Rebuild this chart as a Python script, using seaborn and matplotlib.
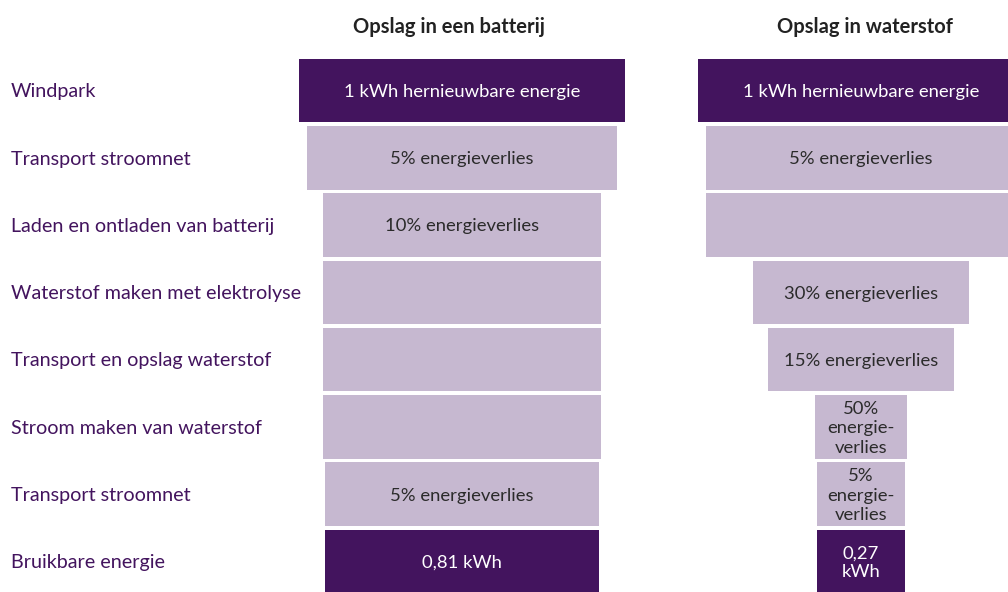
import pandas as pd
import matplotlib.pyplot as plt
import seaborn as sns

# Steps in the energy chain (top to bottom)
stappen = ['Windpark', 'Transport stroomnet', 'Laden en ontladen van batterij',
           'Waterstof maken met elektrolyse', 'Transport en opslag waterstof',
           'Stroom maken van waterstof', 'Transport stroomnet', 'Bruikbare energie']
soort = ['energie', 'verlies', 'verlies', 'verlies', 'verlies', 'verlies', 'verlies', 'energie']

# Remaining energy per step (bar width, share of 1 kWh)
batterij = [1.0, 0.95, 0.855, 0.855, 0.855, 0.855, 0.84, 0.84]
waterstof = [1.0, 0.95, 0.95, 0.665, 0.57, 0.285, 0.27, 0.27]

batterij_tekst = ['1 kWh hernieuwbare energie', '5% energieverlies', '10% energieverlies',
                  '', '', '', '5% energieverlies', '0,81 kWh']
waterstof_tekst = ['1 kWh hernieuwbare energie', '5% energieverlies', '',
                   '30% energieverlies', '15% energieverlies', '50%\nenergie-\nverlies',
                   '5%\nenergie-\nverlies', '0,27\nkWh']

titels = ['Opslag in een batterij', 'Opslag in waterstof']

donker = '#43145e'
licht = '#c6b8d0'
palet = {'energie': donker, 'verlies': licht}

sns.set_style('white')
plt.rcParams['font.family'] = ['Lato', 'DejaVu Sans']

fig = plt.figure(figsize=(10.08, 5.92), dpi=100)
W, H = 1008, 592
onder = -3.1 / H
hoogte = 538.2 / H
ax1 = fig.add_axes([299 / W, onder, 326 / W, hoogte])
ax2 = fig.add_axes([698 / W, onder, 310 / W, hoogte])


def trechter(ax, breedte, tekst, xmax):
    df = pd.DataFrame({'stap': list(range(len(stappen))), 'breedte': breedte, 'soort': soort})
    sns.barplot(data=df, x='breedte', y='stap', hue='soort', palette=palet, orient='h',
                dodge=False, width=0.945, legend=False, ax=ax, linewidth=0, saturation=1)
    # center the bars
    for p in ax.patches:
        p.set_x(-p.get_width() / 2)
    for i, t in enumerate(tekst):
        if not t:
            continue
        kleur = 'white' if soort[i] == 'energie' else '#2b2b2b'
        ax.text(0, i + 0.02, t, ha='center', va='center', color=kleur, fontsize=13.3,
                linespacing=1.25)
    ax.set_xlim(-0.5, xmax)
    ax.set_ylim(len(stappen) - 0.5, -0.5)
    ax.axis('off')


trechter(ax1, batterij, batterij_tekst, 0.5)
trechter(ax2, waterstof, waterstof_tekst, 0.5 - 16 / 326)

# step labels on the left
for i, s in enumerate(stappen):
    ax1.text(-0.883, i + 0.02, s, ha='left', va='center', color=donker, fontsize=14.2,
             transform=ax1.get_yaxis_transform())

fig.text(448.5 / W, 1 - 27 / H, titels[0], ha='center', va='center',
         fontsize=14.5, fontweight='bold', color='#222222')
fig.text(865 / W, 1 - 27 / H, titels[1], ha='center', va='center',
         fontsize=14.5, fontweight='bold', color='#222222')

fig.savefig('out.png', dpi=100)
